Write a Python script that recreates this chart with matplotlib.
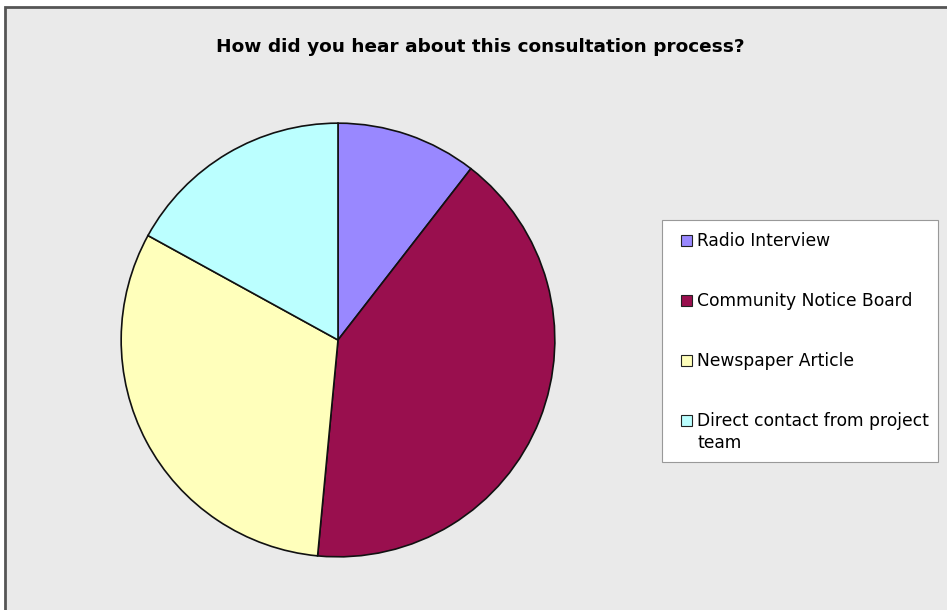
"""Pie chart: how respondents heard about the consultation process."""
import matplotlib
matplotlib.use("Agg")
import matplotlib.pyplot as plt
from matplotlib.patches import Rectangle

# Data (share of responses, %)
categories = [
    "Radio Interview",
    "Community Notice Board",
    "Newspaper Article",
    "Direct contact from project\nteam",
]
shares = [10.5, 41.0, 31.5, 17.0]
colours = ["#9988FF", "#990F4E", "#FFFFBB", "#BBFFFF"]

TITLE = "How did you hear about this consultation process?"
BG = "#EAEAEA"
W, H = 947, 610


def px(x, y):
    """Pixel position (from top-left) to figure fraction."""
    return x / W, 1 - y / H


fig = plt.figure(figsize=(W / 100, H / 100), dpi=100)
fig.patch.set_facecolor("white")

# Chart area panel with dark border (top and left edges visible)
fig.patches.append(Rectangle((5 / W, -0.01), 1.0, (H - 7) / H + 0.01,
                             transform=fig.transFigure, facecolor=BG,
                             edgecolor="#555555", linewidth=2.0, zorder=-5))

fig.text(*px(480, 47), TITLE, ha="center", va="center",
         fontsize=13.3, fontweight="bold", color="black")

# Pie axes: centre (338, 340), radius 219 px
cx, cy, r = 338, 340, 219
ax = fig.add_axes([(cx - r) / W, (H - cy - r) / H, 2 * r / W, 2 * r / H])
ax.set_zorder(2)
ax.pie(shares, colors=colours, startangle=90, counterclock=False,
       radius=1.0, wedgeprops=dict(edgecolor="#111111", linewidth=1.2))
ax.set_xlim(-1.01, 1.01)
ax.set_ylim(-1.01, 1.01)
ax.set_aspect("equal")
ax.axis("off")

# Legend box drawn by hand so it sits exactly where the reference has it
lx0, ly0, lx1, ly1 = 662, 220, 938, 462
fig.patches.append(Rectangle(px(lx0, ly1), (lx1 - lx0) / W, (ly1 - ly0) / H,
                             transform=fig.transFigure, facecolor="white",
                             edgecolor="#999999", linewidth=0.8, zorder=3))
sq = 11
for i, (label, colour) in enumerate(zip(categories, colours)):
    y = 240 + 60 * i
    fig.patches.append(Rectangle(px(681, y + sq / 2), sq / W, sq / H,
                                 transform=fig.transFigure, facecolor=colour,
                                 edgecolor="#222222", linewidth=0.8, zorder=4))
    fig.text(*px(697, y - 8), label, ha="left", va="top", fontsize=12.3,
             linespacing=1.3, color="black", zorder=4)

fig.savefig("out.png", dpi=100, facecolor="white")
